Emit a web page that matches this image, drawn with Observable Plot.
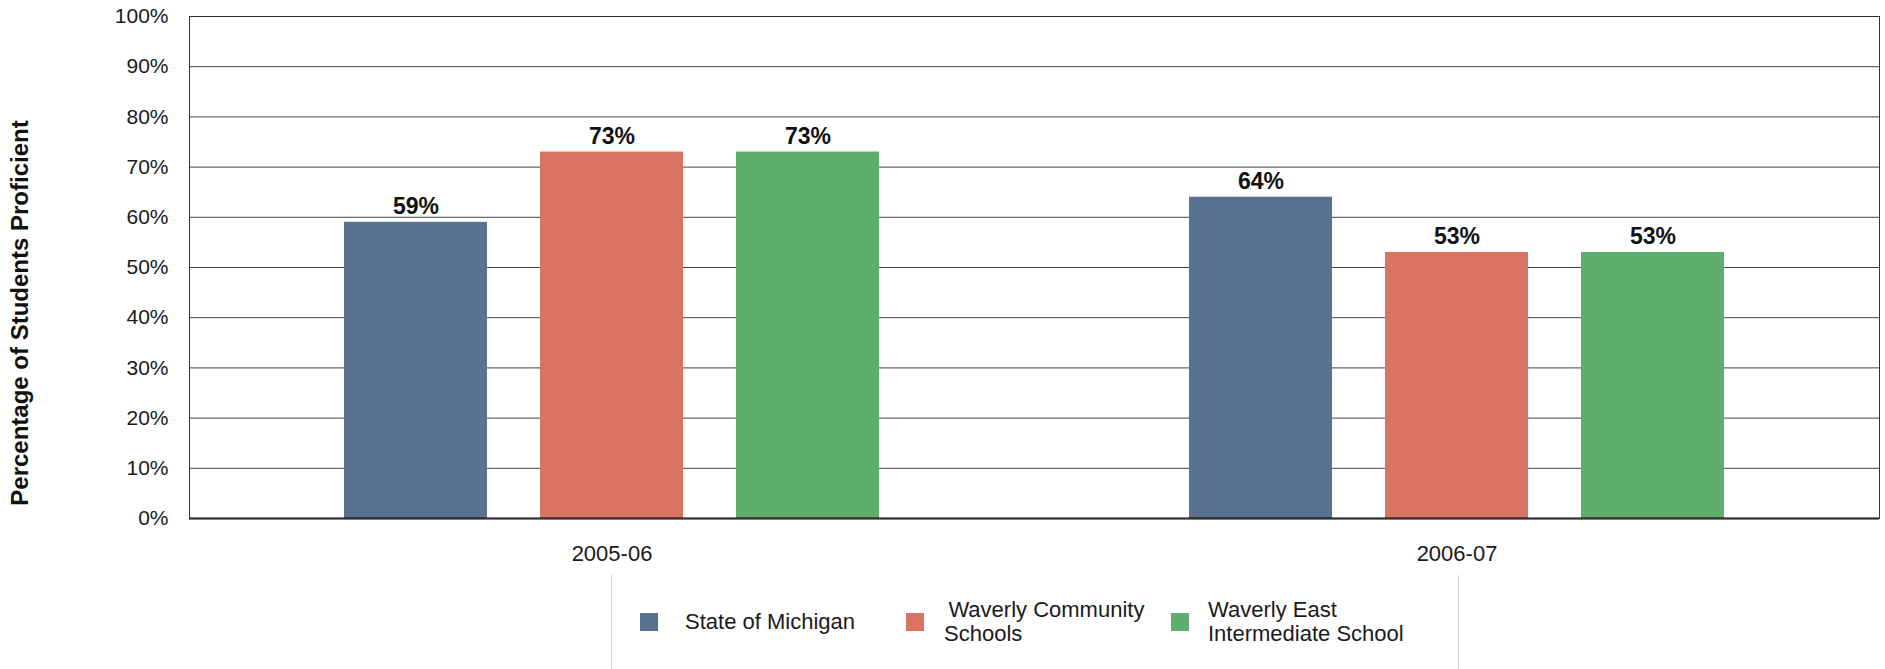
<!DOCTYPE html>
<html>
<head>
<meta charset="utf-8">
<script src="https://cdn.jsdelivr.net/npm/d3@7"></script>
<script src="https://cdn.jsdelivr.net/npm/@observablehq/plot@0.6"></script>
<style>
  body { margin: 0; background: #fff; font-family: "Liberation Sans", Arial, sans-serif; color: #1a1a1a; }
  #wrap { position: relative; width: 1885px; height: 575px; }
  #ytitle { position: absolute; left: 20px; top: 313px; transform: translate(-50%, -50%) rotate(-90deg);
    white-space: nowrap; font-weight: bold; font-size: 24px; color: #111; }
  #legend { position: relative; width: 1885px; height: 94px; }
  #legend .box { position: absolute; left: 611px; width: 846px; top: 0; height: 94px;
    border-left: 1px solid #d0d0d0; border-right: 1px solid #d0d0d0; }
  .item { position: absolute; top: 0; height: 94px; display: flex; align-items: center; font-size: 22px; line-height: 24px; }
  .sw { width: 18px; height: 18px; flex: none; }
</style>
</head>
<body>
<div id="wrap"><div id="ytitle">Percentage of Students Proficient</div></div>
<div id="legend"><div class="box"></div></div>
<script>
const groups = ["2005-06", "2006-07"];
const series = ["State of Michigan", "Waverly Community Schools", "Waverly East Intermediate School"];
const legendLines = [["State of Michigan"], ["\u2009Waverly Community", "Schools"], ["Waverly East", "Intermediate School"]];
const michigan = [59, 64];
const community = [73, 53];
const eastSchool = [73, 53];
const colors = ["#5a7190", "#d97363", "#5fae6d"];
const yTicks = [0, 10, 20, 30, 40, 50, 60, 70, 80, 90, 100];

const seriesValues = [michigan, community, eastSchool];
const data = groups.flatMap((g, i) => series.map((s, j) => ({group: g, series: s, value: seriesValues[j][i]})));

const chart = Plot.plot({
  width: 1885,
  height: 575,
  marginTop: 16,
  marginBottom: 57,
  marginLeft: 189,
  marginRight: 6,
  fx: {domain: groups, padding: 0, label: null, axis: null},
  x: {domain: series, axis: null, paddingInner: 0.27, paddingOuter: 0.79},
  y: {domain: [0, 100], ticks: yTicks, label: null, axis: null},
  color: {domain: series, range: colors},
  style: {fontFamily: "'Liberation Sans', Arial, sans-serif", fontSize: "21px", color: "#1a1a1a", background: "#fff"},
  marks: [
    Plot.gridY(yTicks, {stroke: "#444", strokeOpacity: 1}),
    Plot.axisY(yTicks, {tickSize: 0, tickPadding: 21, tickFormat: d => d + "%", fontSize: 21, label: null}),
    Plot.axisFx({anchor: "bottom", tickSize: 0, tickPadding: 27, fontSize: 22, label: null}),
    Plot.barY(data, {fx: "group", x: "series", y: "value", fill: "series"}),
    Plot.text(data, {fx: "group", x: "series", y: "value", text: d => d.value + "%", lineAnchor: "bottom", dy: -8, fontWeight: "bold", fontSize: 23, fill: "#111"}),
    Plot.ruleY([0], {stroke: "#000", strokeWidth: 2}),
    Plot.frame({facet: "super", stroke: "#333"})
  ]
});
document.getElementById("wrap").appendChild(chart);

const legend = document.getElementById("legend");
const itemLeft = [640, 906, 1171];
const textGap = [27, 20, 19];
series.forEach((s, i) => {
  const it = document.createElement("div");
  it.className = "item";
  it.style.left = itemLeft[i] + "px";
  const sw = document.createElement("div");
  sw.className = "sw";
  sw.style.background = colors[i];
  sw.style.marginRight = textGap[i] + "px";
  const tx = document.createElement("div");
  tx.innerHTML = legendLines[i].join("<br>");
  it.appendChild(sw);
  it.appendChild(tx);
  legend.appendChild(it);
});
</script>
</body>
</html>
